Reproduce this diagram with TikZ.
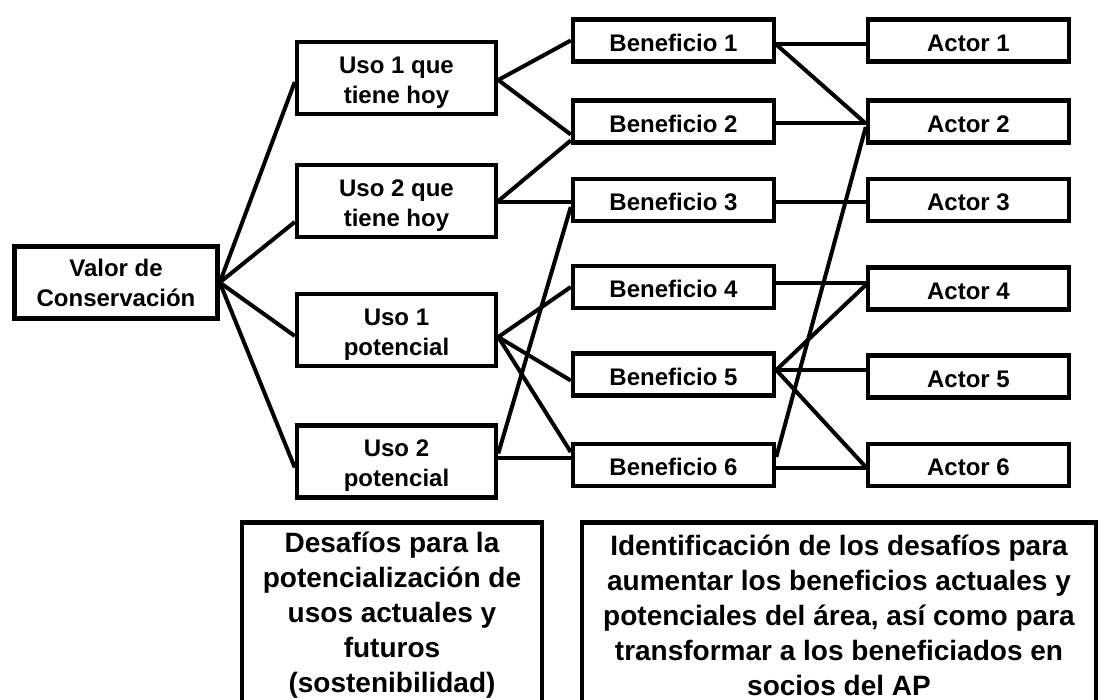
\documentclass[tikz,border=0pt]{standalone}
\usepackage{fontspec}
\setmainfont{Liberation Sans}
\usetikzlibrary{calc}
\tikzset{
  box/.style={draw, line width=4.5pt, inner sep=0pt, align=center,
    font=\bfseries\fontsize{24}{30}\selectfont},
  usobox/.style={box, minimum width=199, minimum height=72, text height=55pt},
  benbox/.style={box, minimum width=201, minimum height=42, text height=21.5pt, text depth=0pt},
  bigbox/.style={draw, line width=4.5pt, inner sep=0pt, align=center, anchor=north,
    minimum height=186, font=\bfseries\fontsize{28}{35}\selectfont},
  link/.style={line width=4pt}
}
\begin{document}
\begin{tikzpicture}[x=1pt,y=-1pt]
\useasboundingbox (0,0) rectangle (1105,700);
\fill[white] (0,0) rectangle (1105,700);
% left column
\node[box, minimum width=203, minimum height=72] (v) at (116,282.5) {Valor de\\Conservación};
\node[usobox] (u1) at (396.5,78) {Uso 1 que\\tiene hoy};
\node[usobox] (u2) at (396.5,201) {Uso 2 que\\tiene hoy};
\node[usobox] (u3) at (396.5,330) {Uso 1\\potencial};
\node[usobox] (u4) at (396.5,461.5) {Uso 2\\potencial};
% beneficios
\node[benbox] (b1) at (673.5,40.5) {Beneficio 1};
\node[benbox] (b2) at (673.5,121.5) {Beneficio 2};
\node[benbox] (b3) at (673.5,200) {Beneficio 3};
\node[benbox] (b4) at (673.5,287) {Beneficio 4};
\node[benbox] (b5) at (673.5,374.5) {Beneficio 5};
\node[benbox] (b6) at (673.5,465) {Beneficio 6};
% actores
\node[benbox] (a1) at (968.5,40.5) {Actor 1};
\node[benbox] (a2) at (968.5,121.5) {Actor 2};
\node[benbox] (a3) at (968.5,200) {Actor 3};
\node[benbox] (a4) at (968.5,288.5) {Actor 4};
\node[benbox] (a5) at (968.5,376.5) {Actor 5};
\node[benbox] (a6) at (968.5,465) {Actor 6};
% bottom boxes
\node[bigbox, minimum width=300] (d1) at (392,520) {Desafíos para la\\potencialización de\\usos actuales y\\futuros\\(sostenibilidad)};
\node[bigbox, minimum width=514] (d2) at (839,520) {Identificación de los desafíos para\\aumentar los beneficios actuales y\\potenciales del área, así como para\\transformar a los beneficiados en\\socios del AP};
% valor -> usos
\draw[link] (v.east) -- ([yshift=-4pt]u1.west);
\draw[link] (v.east) -- ([yshift=-21pt]u2.west);
\draw[link] (v.east) -- ([yshift=-6pt]u3.west);
\draw[link] (v.east) -- ([yshift=-6pt]u4.west);
% usos -> beneficios
\draw[link] ([yshift=-2pt]u1.east) -- (b1.west);
\draw[link] ([yshift=-2pt]u1.east) -- ([yshift=-13pt]b2.west);
\draw[link] (u2.east) -- ([yshift=-19pt]b2.west);
\draw[link] ([yshift=-1pt]u2.east) -- ([yshift=-1pt]u2.east -| b3.west);
\draw[link] ([yshift=-7pt]u3.east) -- (b4.west);
\draw[link] ([yshift=-7pt]u3.east) -- ([yshift=-6pt]b5.west);
\draw[link] ([yshift=-7pt]u3.east) -- ([yshift=13pt]b6.west);
\draw[link] ([yshift=8pt]u4.east) -- ([yshift=-7pt]b3.west);
\draw[link] ([yshift=4pt]u4.east) -- ([yshift=4pt]u4.east -| b6.west);
% beneficios -> actores
\draw[link] ([yshift=-4pt]b1.east) -- ([yshift=-4pt]b1.east -| a1.west);
\draw[link] ([yshift=-4pt]b1.east) -- ([yshift=-2pt]a2.west);
\draw[link] ([yshift=-1.5pt]b2.east) -- ([yshift=-1.5pt]b2.east -| a2.west);
\draw[link] ([yshift=-2pt]b3.east) -- ([yshift=-2pt]b3.east -| a3.west);
\draw[link] ([yshift=8pt]b6.east) -- ([yshift=-5.5pt]a2.west);
\draw[link] ([yshift=4pt]b4.east) -- ([yshift=4pt]b4.east -| a4.west);
\draw[link] ([yshift=4.5pt]b5.east) -- ([yshift=3.5pt]a4.west);
\draw[link] ([yshift=4.5pt]b5.east) -- ([yshift=4.5pt]b5.east -| a5.west);
\draw[link] ([yshift=4.5pt]b5.east) -- ([yshift=-2pt]a6.west);
\draw[link] ([yshift=-3pt]b6.east) -- ([yshift=-3pt]b6.east -| a6.west);
\end{tikzpicture}
\end{document}
